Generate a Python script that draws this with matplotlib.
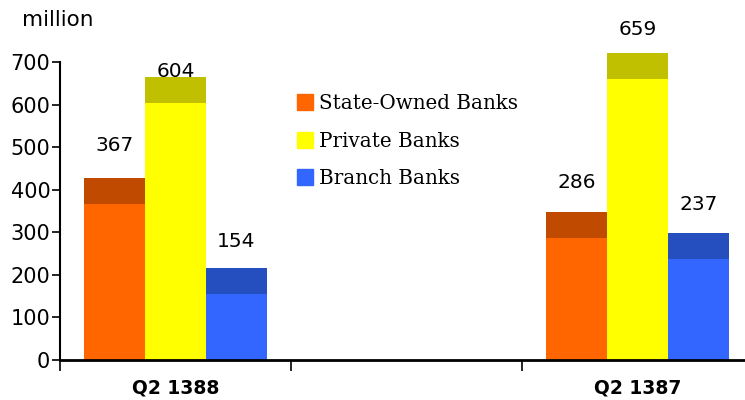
import matplotlib.pyplot as plt
from matplotlib.lines import Line2D
import numpy as np

# data
periods = ["Q2 1388", "", "Q2 1387"]
series_names = ["State-Owned Banks", "Private Banks", "Branch Banks"]
state_owned = [367, None, 286]
private = [604, None, 659]
branch = [154, None, 237]

face_colors = ["#FF6600", "#FFFF00", "#3366FF"]
top_colors = ["#C04A00", "#C0C000", "#254FBF"]
cap_height = 61      # fake 3d top of each bar
# distance (px) from cap top to label centre, [series][period]
label_pad = [[32, None, 30], [5, None, 24], [27, None, 29]]

fig = plt.figure(figsize=(7.45, 4.0), dpi=100)
ax = fig.add_axes([60 / 745, 40 / 400, 693 / 745, 298 / 400])

width = 0.264
x = np.arange(len(periods))
all_series = [state_owned, private, branch]

for s, values in enumerate(all_series):
    for i, v in enumerate(values):
        if v is None:
            continue
        xpos = x[i] + (s - 1) * width
        ax.bar(xpos, v, width, color=face_colors[s], clip_on=False, zorder=2)
        ax.bar(xpos, cap_height, width, bottom=v, color=top_colors[s], clip_on=False, zorder=2)
        ax.annotate(str(v), xy=(xpos, v + cap_height), xytext=(0, label_pad[s][i] * 0.72),
                    textcoords="offset points", ha="center", va="center",
                    fontsize=14.5, annotation_clip=False, zorder=3)

ax.set_xlim(-0.5, 2.5)
ax.set_ylim(0, 700)
ax.set_yticks(range(0, 701, 100))
ax.tick_params(axis="y", labelsize=15, length=6, width=1.2, direction="out", pad=1)

ax.set_xticks(x)
ax.set_xticklabels(periods, fontsize=13.5, fontweight="bold")
ax.set_xticks([-0.5, 0.5, 1.5, 2.5], minor=True)
ax.tick_params(axis="x", which="major", length=0, pad=13)
ax.tick_params(axis="x", which="minor", length=8, width=1.2, direction="out")

for side in ["top", "right"]:
    ax.spines[side].set_visible(False)
ax.spines["left"].set_linewidth(1.5)
ax.spines["bottom"].set_linewidth(2)

fig.text(22 / 745, 1 - 20 / 400, "million", fontsize=15.5, va="center", ha="left")

handles = [Line2D([0], [0], marker="s", linestyle="", markersize=11, color=c)
           for c in face_colors]
fig.legend(handles, series_names, loc="upper left", bbox_to_anchor=(279 / 745, 1 - 76 / 400),
           frameon=False, handlelength=0.8, handletextpad=0.3, labelspacing=0.94,
           prop={"family": "DejaVu Serif", "size": 14.3})

fig.savefig("out.png", dpi=100)
